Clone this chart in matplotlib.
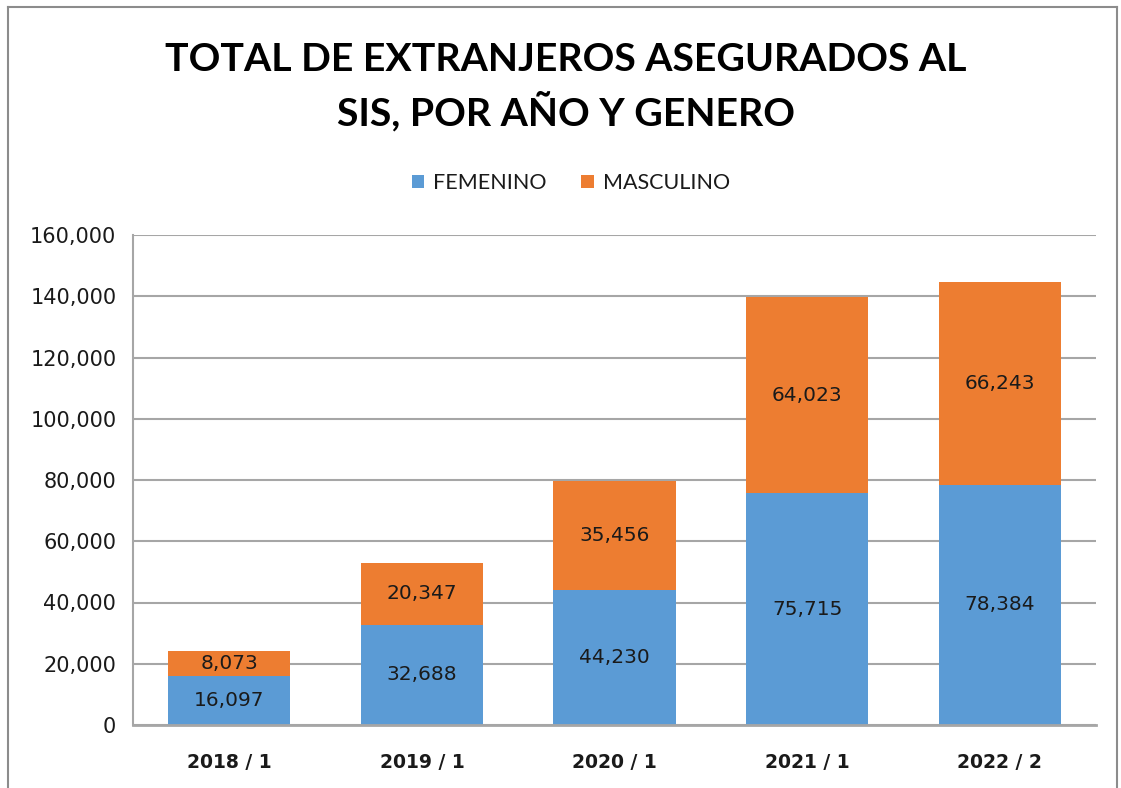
import numpy as np
import matplotlib.pyplot as plt
from matplotlib.lines import Line2D
from matplotlib.ticker import FuncFormatter

# Datos
periodos = ["2018 / 1", "2019 / 1", "2020 / 1", "2021 / 1", "2022 / 2"]
femenino = [16097, 32688, 44230, 75715, 78384]
masculino = [8073, 20347, 35456, 64023, 66243]

azul = "#5B9BD5"
naranja = "#ED7D31"
gris = "#a6a6a6"
texto = "#1a1a1a"

fig = plt.figure(figsize=(11.21, 7.88), dpi=100)
ax = fig.add_axes([133 / 1121, 1 - 725 / 788, (1096 - 133) / 1121, (725 - 235) / 788])

x = np.arange(len(periodos))
b1 = ax.bar(x, femenino, width=0.635, color=azul, label="FEMENINO", zorder=2)
b2 = ax.bar(x, masculino, width=0.635, bottom=femenino, color=naranja, label="MASCULINO", zorder=2)

ax.bar_label(b1, labels=[f"{v:,}" for v in femenino], label_type="center",
             fontsize=14.5, color=texto, family="DejaVu Sans")
ax.bar_label(b2, labels=[f"{v:,}" for v in masculino], label_type="center",
             fontsize=14.5, color=texto, family="DejaVu Sans")

ax.set_xlim(-0.5, len(periodos) - 0.5)
ax.set_ylim(0, 160000)
ax.set_yticks(np.arange(0, 160001, 20000))
ax.yaxis.set_major_formatter(FuncFormatter(lambda v, p: f"{int(v):,}"))
ax.set_xticks(x)
ax.set_xticklabels(periodos, fontsize=13.5, fontweight="bold", color=texto, family="DejaVu Sans")
ax.tick_params(axis="y", labelsize=15, labelcolor=texto, length=0, pad=12)
ax.tick_params(axis="x", length=0, pad=20)
for lab in ax.get_yticklabels():
    lab.set_family("DejaVu Sans")

ax.grid(axis="y", color=gris, linewidth=1.5, zorder=0)
ax.set_axisbelow(True)
for s in ["top", "right"]:
    ax.spines[s].set_visible(False)
ax.spines["left"].set_color(gris)
ax.spines["left"].set_linewidth(1.5)
ax.spines["bottom"].set_color(gris)
ax.spines["bottom"].set_linewidth(2)

fig.text(0.505, 1 - 87 / 788, "TOTAL DE EXTRANJEROS ASEGURADOS AL\nSIS, POR AÑO Y GENERO",
         ha="center", va="center", fontsize=28.3, fontweight="bold", family="Lato",
         linespacing=1.4, color="black")

leg = fig.legend(handles=[b1, b2], loc="center", bbox_to_anchor=(0.509, 1 - 183 / 788),
                 ncol=2, frameon=False, handlelength=0.6, handleheight=0.6,
                 handletextpad=0.4, columnspacing=1.6, prop={"family": "Lato", "size": 15.5})
for t in leg.get_texts():
    t.set_color(texto)

# borde del gráfico
fig.add_artist(Line2D([8 / 1121, 8 / 1121], [0, 1 - 7 / 788], color="#8c8c8c", lw=1.5))
fig.add_artist(Line2D([8 / 1121, 1117 / 1121], [1 - 7 / 788, 1 - 7 / 788], color="#8c8c8c", lw=1.5))
fig.add_artist(Line2D([1117 / 1121, 1117 / 1121], [0, 1 - 7 / 788], color="#8c8c8c", lw=1.5))

plt.savefig("out.png", dpi=100)
